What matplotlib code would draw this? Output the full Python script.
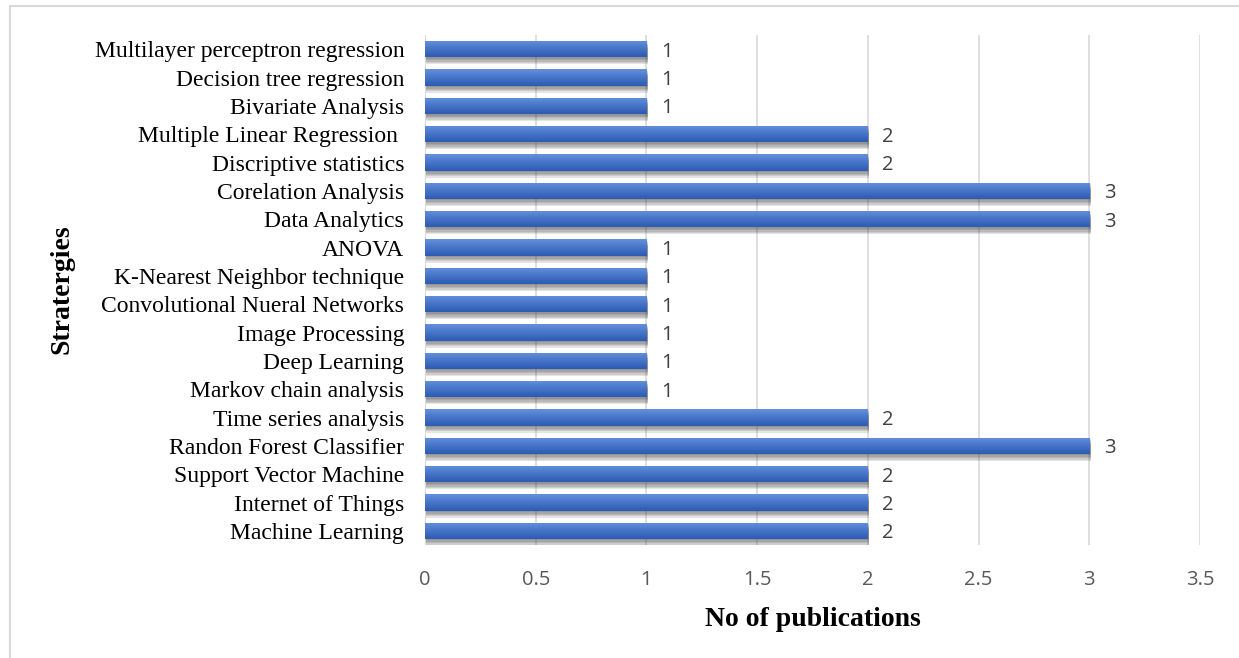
import matplotlib.pyplot as plt
import matplotlib.patheffects as pe
from matplotlib.lines import Line2D
from matplotlib.colors import LinearSegmentedColormap
import numpy as np

# strategies from bottom to top, with publication counts
strategies = [
    "Machine Learning",
    "Internet of Things",
    "Support Vector Machine",
    "Randon Forest Classifier",
    "Time series analysis",
    "Markov chain analysis",
    "Deep Learning",
    "Image Processing",
    "Convolutional Nueral Networks",
    "K-Nearest Neighbor technique",
    "ANOVA",
    "Data Analytics",
    "Corelation Analysis",
    "Discriptive statistics",
    "Multiple Linear Regression ",
    "Bivariate Analysis",
    "Decision tree regression",
    "Multilayer perceptron regression",
]
publications = [2, 2, 2, 3, 2, 1, 1, 1, 1, 1, 1, 3, 3, 2, 2, 1, 1, 1]
x_ticks = [0, 0.5, 1, 1.5, 2, 2.5, 3, 3.5]

serif = "Liberation Serif"
sans = "Open Sans"

fig = plt.figure(figsize=(12.39, 6.58), dpi=100)
ax = fig.add_axes([0.343, 0.1717, 0.6255, 0.775])

# soft drop shadow built from stacked faint offsets
shadow = [pe.SimplePatchShadow(offset=(1.0, -k), shadow_rgbFace="#303030", alpha=0.13)
          for k in (1.0, 2.0, 3.0, 4.0, 5.0)]
ypos = np.arange(len(strategies))
bars = ax.barh(ypos, publications, height=0.58, color="#4472c4", zorder=3,
               path_effects=shadow + [pe.Normal()])

# light-to-dark vertical gradient on each bar
grad = np.linspace(0, 1, 64).reshape(-1, 1)
cmap = LinearSegmentedColormap.from_list("bar", ["#6590dc", "#4675c8", "#2d5ab3"])
for b in bars:
    x0, y0 = b.get_x(), b.get_y()
    im = ax.imshow(grad, extent=[x0, x0 + b.get_width(), y0, y0 + b.get_height()],
                   origin="upper", cmap=cmap, aspect="auto", zorder=4,
                   interpolation="bilinear")
    im.set_clip_path(b)

for y, v in zip(ypos, publications):
    ax.text(v + 0.065, y, str(v), va="center_baseline", ha="left", fontsize=14.5,
            color="#404040", family=sans)

ax.set_xlim(0, 3.5)
ax.set_ylim(-0.5, len(strategies) - 0.5)
ax.set_xticks(x_ticks)
ax.set_xticklabels([f"{t:g}" for t in x_ticks], family=sans, fontsize=14.5, color="#595959")
ax.set_yticks(ypos)
ax.set_yticklabels(strategies, family=serif, fontsize=17, color="black")
ax.tick_params(axis="both", length=0)
ax.tick_params(axis="x", pad=18)
ax.tick_params(axis="y", pad=15)
ax.grid(axis="x", color="#d9d9d9", linewidth=1.2, zorder=0)
for s in ax.spines.values():
    s.set_visible(False)
ax.axvline(0, color="#d9d9d9", linewidth=1.2, zorder=2)

ax.set_xlabel("No of publications", family=serif, fontweight="bold", fontsize=20, labelpad=12)
fig.text(0.05, 0.561, "Stratergies", family=serif, fontweight="bold", fontsize=20,
         rotation=90, ha="center", va="center")

# chart area border (left and top edges)
fig.add_artist(Line2D([0.008, 0.008], [0.0, 0.991], color="#d9d9d9", linewidth=1.5))
fig.add_artist(Line2D([0.008, 1.0], [0.991, 0.991], color="#d9d9d9", linewidth=1.5))

fig.savefig("out.png", dpi=100)
